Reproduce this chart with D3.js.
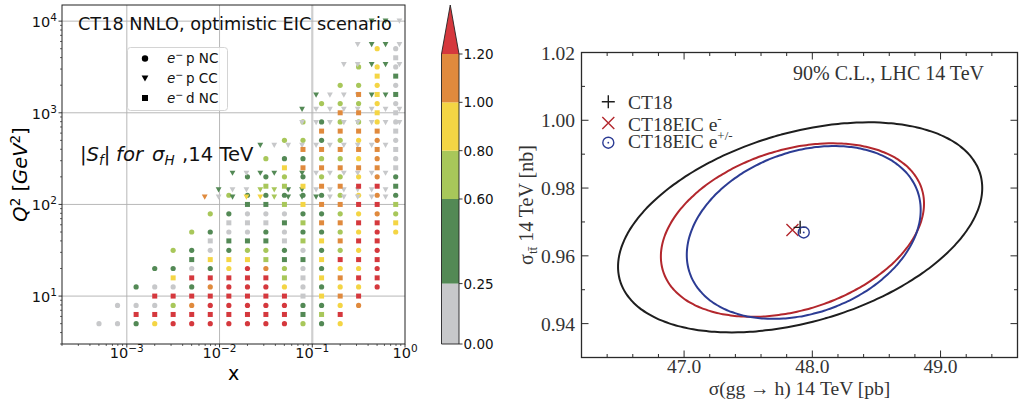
<!DOCTYPE html>
<html>
<head>
<meta charset="utf-8">
<script src="https://cdn.jsdelivr.net/npm/d3@7"></script>
<style>
 html,body{margin:0;padding:0;background:#fff;}
 svg{display:block;}
 .sans{font-family:"DejaVu Sans",sans-serif;}
 .serif{font-family:"Liberation Serif","Times New Roman",serif;}
</style>
</head>
<body>
<svg id="chart" width="1022" height="404"></svg>
<script>
// ================= LEFT PANEL DATA =================
// colour bins of |S_f|
const binEdges = [0.25, 0.6, 0.8, 1.0, 1.2];
const binColors = ["#c7c8ca", "#538955", "#a8c75a", "#f4d544", "#e08a3d", "#d5383d"];
// representative |S_f| value for each bin code 0..5
const binValue = [0.12, 0.45, 0.7, 0.9, 1.1, 1.4];
const cbarTicks = [0, 0.25, 0.6, 0.8, 1.0, 1.2];
const cbarTickLabels = ["0.00", "0.25", "0.60", "0.80", "1.00", "1.20"];

// x-bins for NC pseudo-data (largest x first)
const ncX = [0.794, 0.501, 0.316, 0.2, 0.126, 0.0794, 0.0501, 0.0316, 0.02, 0.0126,
             0.00794, 0.00501, 0.00316, 0.002, 0.00126, 0.000794, 0.000501];
// e- p NC : Q2 rows and bin code per x column ('.' = no point)
const epNCQ2 = [5.0, 7.9, 12.6, 20, 31.6, 50, 79, 126, 200, 316, 501, 794, 1259, 1995, 3162, 5012];
const epNCCodes = [
  "...31255555553100",
  "..43115555542000.",
  ".53310355541001..",
  ".5331024531011...",
  ".532101221012....",
  "353211010012.....",
  "24321100012......",
  "1432111112.......",
  "143221211........",
  "04322112.........",
  "0432122..........",
  "032212...........",
  "03222............",
  "0322.............",
  "032..............",
  "03..............."
];
// e- d NC
const edNCQ2 = [6.3, 10, 15.8, 25, 40, 63, 100, 158, 251, 398, 631, 1000, 1585, 2512, 3981];
const edNCCodes = [
  "...521555555555..",
  "..543055555555...",
  ".554302555553....",
  ".55531123331.....",
  ".5543201110......",
  "3554421000.......",
  "255443211........",
  "15544322.........",
  "0444443..........",
  "044444...........",
  "04444............",
  "0344.............",
  "134..............",
  "13...............",
  "0................"
];
// e- p CC
const ccX = [0.871, 0.617, 0.437, 0.309, 0.219, 0.155, 0.110, 0.0776, 0.0550, 0.0389,
             0.0275, 0.0195, 0.0138, 0.00977, 0.00692];
const epCCQ2 = [10000, 5540, 3360, 1560, 1090, 780, 442, 219, 144, 120];
const epCCCodes = [
  "011............",
  "0110...........",
  "01100..........",
  ".110001........",
  "00000001.......",
  "00000000.......",
  ".0000000001....",
  ".0000001.1101..",
  ".0000001122001.",
  ".00000111233104"
];
const xTicksL = [1e-3, 1e-2, 1e-1, 1];
const xTickExpL = ["\u22123", "\u22122", "\u22121", "0"];
const yTicksL = [10, 100, 1000, 10000];
const yTickExpL = ["1", "2", "3", "4"];
const xDomainL = [2e-4, 1];
const yDomainL = [3, 1.5e4];

// ================= RIGHT PANEL DATA =================
const fitNames = ["CT18", "CT18EIC e", "CT18EIC e"];
const fitSup = ["", "-", "+/-"];
const fitColors = ["#1e1e1e", "#b3272d", "#2c3c94"];
const fitCx = [47.905, 47.845, 47.933];
const fitCy = [0.9684, 0.9676, 0.9669];
const fitSx = [1.42, 1.026, 0.912];
const fitSy = [0.0310, 0.0256, 0.0255];
const fitRho = [0.375, 0.305, 0.26];
const xTicksR = [47.0, 48.0, 49.0];
const yTicksR = [0.94, 0.96, 0.98, 1.00, 1.02];
const xDomainR = [46.2, 49.6];
const yDomainR = [0.93, 1.02];

// ================= DRAW =================
const svg = d3.select("#chart");
const color = d3.scaleThreshold().domain(binEdges).range(binColors);

const L = {x0: 62, x1: 405, y0: 5, y1: 344};
const xL = d3.scaleLog().domain(xDomainL).range([L.x0, L.x1]);
const yL = d3.scaleLog().domain(yDomainL).range([L.y1, L.y0]);

const left = svg.append("g");
// grid
left.append("g").selectAll("line").data(xTicksL.slice(0, 3)).join("line")
  .attr("x1", d => xL(d)).attr("x2", d => xL(d)).attr("y1", L.y0).attr("y2", L.y1)
  .attr("stroke", d => d === 0.1 ? "#cfcfcf" : "#b0b0b0")
  .attr("stroke-width", d => d === 0.1 ? 2.2 : 0.9);
left.append("g").selectAll("line").data(yTicksL).join("line")
  .attr("y1", d => yL(d)).attr("y2", d => yL(d)).attr("x1", L.x0).attr("x2", L.x1)
  .attr("stroke", "#b0b0b0").attr("stroke-width", 0.9);

function toPoints(xs, qs, codes) {
  const pts = [];
  codes.forEach((row, i) => {
    row.split("").forEach((c, k) => {
      if (c !== ".") pts.push({x: xs[k], q2: qs[i], s: binValue[+c]});
    });
  });
  return pts;
}
const ncPts = toPoints(ncX, epNCQ2, epNCCodes);
const ccPts = toPoints(ccX, epCCQ2, epCCCodes);
const edPts = toPoints(ncX, edNCQ2, edNCCodes);

const pts = left.append("g");
pts.selectAll("circle").data(ncPts).join("circle")
  .attr("cx", d => xL(d.x)).attr("cy", d => yL(d.q2)).attr("r", 2.6)
  .attr("fill", d => color(d.s));
const tri = "M-2.9,-2.6L2.9,-2.6L0,2.6Z";
pts.selectAll("path.cc").data(ccPts).join("path").attr("class", "cc")
  .attr("d", tri).attr("transform", d => `translate(${xL(d.x)},${yL(d.q2)})`)
  .attr("fill", d => color(d.s));
pts.selectAll("rect").data(edPts).join("rect")
  .attr("x", d => xL(d.x) - 2.5).attr("y", d => yL(d.q2) - 2.5)
  .attr("width", 5).attr("height", 5)
  .attr("fill", d => color(d.s));

// frame
left.append("rect").attr("x", L.x0).attr("y", L.y0)
  .attr("width", L.x1 - L.x0).attr("height", L.y1 - L.y0)
  .attr("fill", "none").attr("stroke", "#222").attr("stroke-width", 1);

// ticks
const xMinorL = [], yMinorL = [];
for (let e = -4; e <= 0; e++) for (let m = 2; m <= 9; m++) {
  const v = m * Math.pow(10, e);
  if (v >= xDomainL[0] && v <= xDomainL[1]) xMinorL.push(v);
}
for (let e = 0; e <= 4; e++) for (let m = 2; m <= 9; m++) {
  const v = m * Math.pow(10, e);
  if (v >= yDomainL[0] && v <= yDomainL[1]) yMinorL.push(v);
}
left.append("g").selectAll("line").data(xTicksL).join("line")
  .attr("x1", d => xL(d)).attr("x2", d => xL(d)).attr("y1", L.y1).attr("y2", L.y1 + 3.5)
  .attr("stroke", "#222").attr("stroke-width", 0.9);
left.append("g").selectAll("line").data(xMinorL).join("line")
  .attr("x1", d => xL(d)).attr("x2", d => xL(d)).attr("y1", L.y1).attr("y2", L.y1 + 2)
  .attr("stroke", "#222").attr("stroke-width", 0.7);
left.append("g").selectAll("line").data(yTicksL).join("line")
  .attr("y1", d => yL(d)).attr("y2", d => yL(d)).attr("x1", L.x0).attr("x2", L.x0 - 3.5)
  .attr("stroke", "#222").attr("stroke-width", 0.9);
left.append("g").selectAll("line").data(yMinorL).join("line")
  .attr("y1", d => yL(d)).attr("y2", d => yL(d)).attr("x1", L.x0).attr("x2", L.x0 - 2)
  .attr("stroke", "#222").attr("stroke-width", 0.7);

// tick labels
const xl = left.append("g").attr("class", "sans").attr("font-size", 14.5).attr("fill", "#111");
xTicksL.forEach((t, i) => {
  const tx = xl.append("text").attr("x", xL(t)).attr("y", L.y1 + 14.3).attr("text-anchor", "middle");
  tx.append("tspan").text("10");
  tx.append("tspan").attr("dy", -6).attr("font-size", 10.5).text(xTickExpL[i]);
});
yTicksL.forEach((t, i) => {
  const tx = xl.append("text").attr("x", 57).attr("y", yL(t) + 6).attr("text-anchor", "end");
  tx.append("tspan").text("10");
  tx.append("tspan").attr("dy", -6).attr("font-size", 10.5).text(yTickExpL[i]);
});
// axis labels
left.append("text").attr("class", "sans").attr("x", (L.x0 + L.x1) / 2).attr("y", 379.5)
  .attr("text-anchor", "middle").attr("font-size", 19).text("x");
const yl = left.append("text").attr("class", "sans").attr("font-size", 19.5)
  .attr("text-anchor", "middle")
  .attr("transform", `translate(27,${(L.y0 + L.y1) / 2}) rotate(-90)`);
yl.append("tspan").attr("font-style", "italic").text("Q");
yl.append("tspan").attr("dy", -7).attr("font-size", 13.5).text("2");
yl.append("tspan").attr("dy", 7).text(" [");
yl.append("tspan").attr("font-style", "italic").text("GeV");
yl.append("tspan").attr("dy", -7).attr("font-size", 13.5).text("2");
yl.append("tspan").attr("dy", 7).text("]");

// title
left.append("text").attr("class", "sans").attr("x", 78).attr("y", 29.5)
  .attr("font-size", 17.7).attr("fill", "#111").text("CT18 NNLO, optimistic EIC scenario");
// |S_f| annotation
const sf = left.append("text").attr("class", "sans").attr("y", 161)
  .attr("font-size", 19.6).attr("fill", "#111");
sf.append("tspan").attr("x", 80).text("|");
sf.append("tspan").attr("font-style", "italic").text("S");
sf.append("tspan").attr("font-style", "italic").attr("font-size", 13.5).attr("dy", 4).text("f");
sf.append("tspan").attr("dy", -4).text("|");
sf.append("tspan").attr("x", 116).attr("font-style", "italic").text("for");
sf.append("tspan").attr("x", 152).attr("font-style", "italic").text("\u03c3");
sf.append("tspan").attr("font-style", "italic").attr("font-size", 13.5).attr("dy", 4).text("H");
sf.append("tspan").attr("x", 182).attr("dy", -4).text(",14 TeV");

// legend
const lg = left.append("g");
lg.append("rect").attr("x", 127.5).attr("y", 47.5).attr("width", 100).attr("height", 63)
  .attr("rx", 3).attr("fill", "#fff").attr("fill-opacity", 0.8).attr("stroke", "#d4d4d4");
const legItems = [["circle", "p NC", 58.5], ["tri", "p CC", 78.5], ["square", "d NC", 98]];
legItems.forEach(([m, lab, y]) => {
  if (m === "circle") lg.append("circle").attr("cx", 145).attr("cy", y).attr("r", 3.2).attr("fill", "#000");
  if (m === "tri") lg.append("path").attr("d", "M-3.4,-3L3.4,-3L0,3Z").attr("transform", `translate(145,${y})`).attr("fill", "#000");
  if (m === "square") lg.append("rect").attr("x", 142).attr("y", y - 3).attr("width", 6).attr("height", 6).attr("fill", "#000");
  const t = lg.append("text").attr("class", "sans").attr("x", 167).attr("y", y + 4.8).attr("font-size", 13.5).attr("fill", "#111");
  t.append("tspan").attr("font-style", "italic").text("e");
  t.append("tspan").attr("dy", -5).attr("font-size", 9.5).text("\u2212");
  t.append("tspan").attr("dy", 5).text("\u2009" + lab);
});

// ================= COLORBAR =================
const C = {x0: 441.5, x1: 459, y0: 54, y1: 344, tip: 5};
const yC = d3.scaleLinear().domain([0, 1.2]).range([C.y1, C.y0]);
const cb = svg.append("g");
const segs = d3.range(cbarTicks.length - 1).map(i => [cbarTicks[i], cbarTicks[i + 1]]);
cb.selectAll("rect").data(segs).join("rect")
  .attr("x", C.x0).attr("width", C.x1 - C.x0)
  .attr("y", d => yC(d[1])).attr("height", d => yC(d[0]) - yC(d[1]))
  .attr("fill", d => color((d[0] + d[1]) / 2));
cb.append("path").attr("d", `M${C.x0},${C.y0}L${(C.x0 + C.x1) / 2},${C.tip}L${C.x1},${C.y0}Z`)
  .attr("fill", color(1.3));
cb.append("path").attr("d", `M${C.x0},${C.y1}L${C.x0},${C.y0}L${(C.x0 + C.x1) / 2},${C.tip}L${C.x1},${C.y0}L${C.x1},${C.y1}Z`)
  .attr("fill", "none").attr("stroke", "#222").attr("stroke-width", 0.9);
cb.selectAll("line.t").data(cbarTicks).join("line").attr("class", "t")
  .attr("x1", C.x1).attr("x2", C.x1 + 3.5).attr("y1", d => yC(d)).attr("y2", d => yC(d))
  .attr("stroke", "#222").attr("stroke-width", 0.9);
cb.selectAll("text").data(cbarTicks).join("text").attr("class", "sans")
  .attr("x", C.x1 + 4.5).attr("y", d => yC(d) + 5).attr("font-size", 13.5).attr("fill", "#111")
  .text((d, i) => cbarTickLabels[i]);

// ================= RIGHT PANEL =================
const R = {x0: 581.5, x1: 1017.5, y0: 52.5, y1: 357.5};
const xR = d3.scaleLinear().domain(xDomainR).range([R.x0, R.x1]);
const yR = d3.scaleLinear().domain(yDomainR).range([R.y1, R.y0]);
const right = svg.append("g");
const ink = "#2a2a2a";

// ellipses
const tt = d3.range(0, 361, 2).map(d => d * Math.PI / 180);
const line = d3.line().x(d => xR(d[0])).y(d => yR(d[1])).curve(d3.curveCardinalClosed);
fitNames.forEach((n, i) => {
  const r = fitRho[i], q = Math.sqrt(1 - r * r);
  const path = tt.slice(0, -1).map(t => [fitCx[i] + fitSx[i] * Math.cos(t),
                                fitCy[i] + fitSy[i] * (r * Math.cos(t) + q * Math.sin(t))]);
  right.append("path").attr("d", line(path)).attr("fill", "none")
    .attr("stroke", fitColors[i]).attr("stroke-width", 2);
});

function marker(g, i, x, y) {
  if (i === 0) {
    g.append("path").attr("d", `M${x - 6.5},${y}H${x + 6.5}M${x},${y - 6.5}V${y + 6.5}`)
      .attr("stroke", fitColors[0]).attr("stroke-width", 1.4).attr("fill", "none");
  } else if (i === 1) {
    g.append("path").attr("d", `M${x - 6},${y - 6}L${x + 6},${y + 6}M${x - 6},${y + 6}L${x + 6},${y - 6}`)
      .attr("stroke", fitColors[1]).attr("stroke-width", 1.4).attr("fill", "none");
  } else {
    g.append("circle").attr("cx", x).attr("cy", y).attr("r", 5.5)
      .attr("stroke", fitColors[2]).attr("stroke-width", 1.4).attr("fill", "none");
    g.append("circle").attr("cx", x).attr("cy", y).attr("r", 0.9).attr("fill", fitColors[2]);
  }
}
[1, 0, 2].forEach(i => marker(right, i, xR(fitCx[i]), yR(fitCy[i])));

// frame
right.append("rect").attr("x", R.x0).attr("y", R.y0).attr("width", R.x1 - R.x0).attr("height", R.y1 - R.y0)
  .attr("fill", "none").attr("stroke", ink).attr("stroke-width", 1.3);

// ticks (inside, all four sides)
const xMinorR = d3.range(46.4, 49.55, 0.2).filter(v => !xTicksR.some(t => Math.abs(t - v) < 1e-6));
const yMinorR = d3.range(0.93, 1.0201, 0.01).filter(v => !yTicksR.some(t => Math.abs(t - v) < 1e-6));
const tg = right.append("g").attr("stroke", ink).attr("stroke-width", 1);
function xt(vals, len) {
  vals.forEach(v => {
    tg.append("line").attr("x1", xR(v)).attr("x2", xR(v)).attr("y1", R.y1).attr("y2", R.y1 - len);
    tg.append("line").attr("x1", xR(v)).attr("x2", xR(v)).attr("y1", R.y0).attr("y2", R.y0 + len);
  });
}
function yt(vals, len) {
  vals.forEach(v => {
    tg.append("line").attr("y1", yR(v)).attr("y2", yR(v)).attr("x1", R.x0).attr("x2", R.x0 + len);
    tg.append("line").attr("y1", yR(v)).attr("y2", yR(v)).attr("x1", R.x1).attr("x2", R.x1 - len);
  });
}
xt(xTicksR, 7); xt(xMinorR, 3.5); yt(yTicksR, 7); yt(yMinorR, 3.5);

const rl = right.append("g").attr("class", "serif").attr("font-size", 19.5).attr("fill", "#333");
rl.selectAll("text.x").data(xTicksR).join("text").attr("class", "x")
  .attr("x", d => xR(d)).attr("y", R.y1 + 15).attr("text-anchor", "middle").text(d => d.toFixed(1));
rl.selectAll("text.y").data(yTicksR).join("text").attr("class", "y")
  .attr("x", R.x0 - 6.5).attr("y", d => yR(d) + 7).attr("text-anchor", "end").text(d => d.toFixed(2));

// axis titles
right.append("text").attr("class", "serif").attr("x", (R.x0 + R.x1) / 2).attr("y", 394.5)
  .attr("text-anchor", "middle").attr("font-size", 19.5).attr("fill", "#333")
  .text("\u03c3(gg \u2192 h) 14 TeV [pb]");
const yr = right.append("text").attr("class", "serif").attr("font-size", 20).attr("fill", "#333")
  .attr("text-anchor", "middle")
  .attr("transform", `translate(533,${(R.y0 + R.y1) / 2}) rotate(-90)`);
yr.append("tspan").text("\u03c3");
yr.append("tspan").attr("dy", 4).attr("font-size", 13).text("t\u0074\u0304");
yr.append("tspan").attr("dy", -4).text(" 14 TeV [nb]");

right.append("text").attr("class", "serif").attr("x", 984).attr("y", 80)
  .attr("text-anchor", "end").attr("font-size", 20).attr("fill", "#333")
  .text("90% C.L., LHC 14 TeV");

// legend
const legY = [101.7, 123, 142.7];
const legBase = [109, 130.7, 148.3];
fitNames.forEach((n, i) => {
  marker(right, i, 608.3, legY[i]);
  const t = right.append("text").attr("class", "serif").attr("x", 628).attr("y", legBase[i])
    .attr("font-size", 19.5).attr("fill", "#333");
  t.append("tspan").text(n);
  if (fitSup[i]) t.append("tspan").attr("dy", -8).attr("font-size", 13).text(fitSup[i]);
});
</script>
</body>
</html>
